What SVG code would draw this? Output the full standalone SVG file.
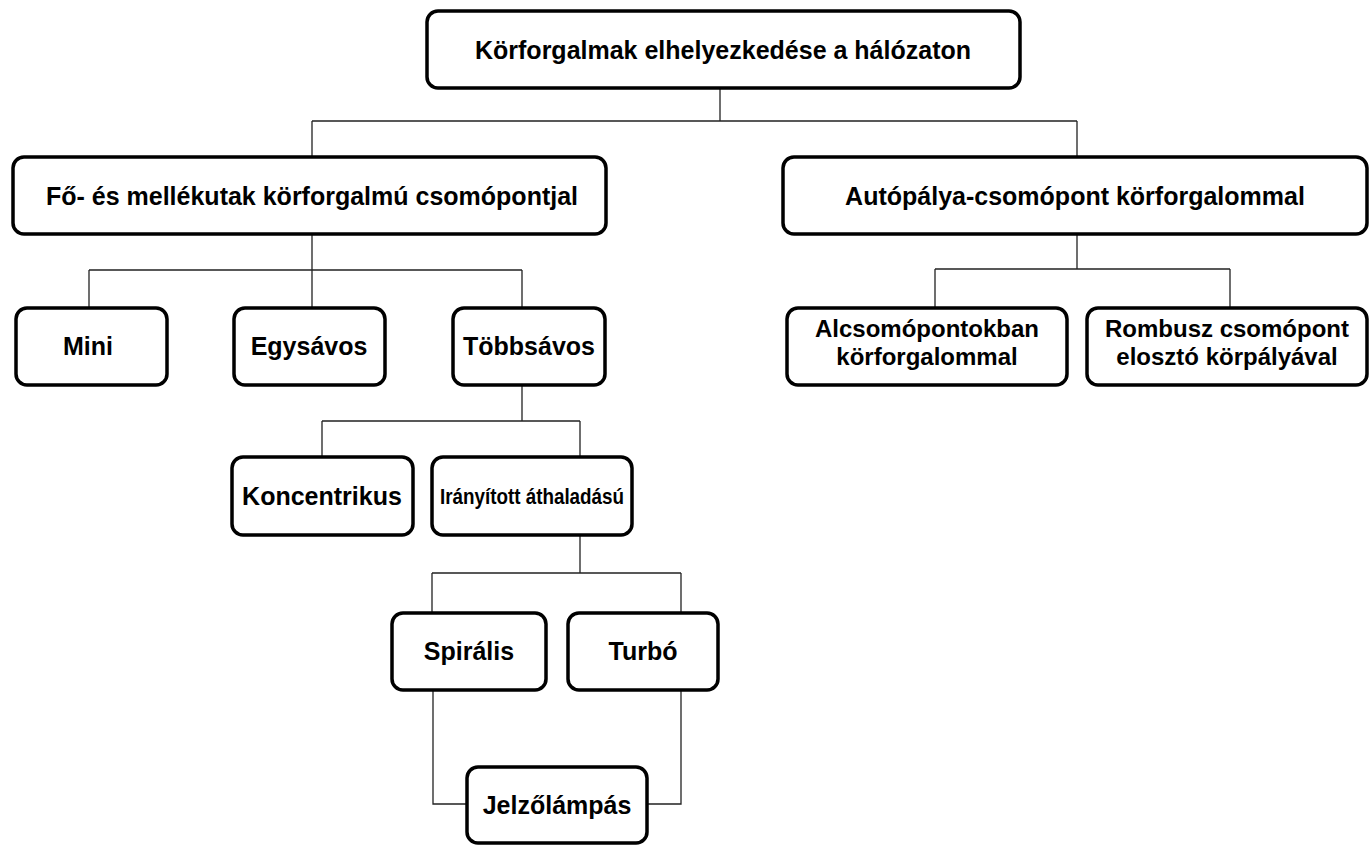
<svg xmlns="http://www.w3.org/2000/svg" width="1369" height="845" viewBox="0 0 1369 845">
<style>
.box{fill:#fff;stroke:#000;stroke-width:3.5}
.lbl{font-family:"Liberation Sans",Arial,sans-serif;font-weight:bold;font-size:25px;fill:#000;text-anchor:middle}
.two{font-size:24px}
.con{fill:none;stroke:#222;stroke-width:1.3}
</style>
<rect width="1369" height="845" fill="#fff"/>
<g id="connectors">
<path class="con" d="M720 88V121M312 121H1077M312 121V157M1077 121V157"/>
<path class="con" d="M312 234V270M89 270H522M89 270V308M312 270V308M522 270V308"/>
<path class="con" d="M1077 234V269M935 269H1230M935 269V308M1230 269V308"/>
<path class="con" d="M522 385V421M322 421H580M322 421V457M580 421V457"/>
<path class="con" d="M580 535V573M432 573H681M432 573V613M681 573V613"/>
<path class="con" d="M433 690V804H467M681 690V804H647"/>
</g>
<g id="n-root"><rect class="box" x="427" y="11" width="593" height="77" rx="11"/><text class="lbl" x="723" y="59">Körforgalmak elhelyezkedése a hálózaton</text></g>
<g id="n-fo"><rect class="box" x="13" y="157" width="593" height="77" rx="11"/><text class="lbl" x="312" y="205">Fő- és mellékutak körforgalmú csomópontjal</text></g>
<g id="n-auto"><rect class="box" x="783" y="157" width="584" height="77" rx="11"/><text class="lbl" x="1075" y="205">Autópálya-csomópont körforgalommal</text></g>
<g id="n-mini"><rect class="box" x="16" y="308" width="151" height="77" rx="11"/><text class="lbl" x="88" y="355">Mini</text></g>
<g id="n-egy"><rect class="box" x="234" y="308" width="151" height="77" rx="11"/><text class="lbl" x="309" y="355">Egysávos</text></g>
<g id="n-tobb"><rect class="box" x="453" y="308" width="152" height="77" rx="11"/><text class="lbl" x="529" y="355">Többsávos</text></g>
<g id="n-alcs"><rect class="box" x="787" y="308" width="280" height="77" rx="11"/><text class="lbl two" x="927" y="337">Alcsomópontokban</text><text class="lbl two" x="927" y="365">körforgalommal</text></g>
<g id="n-romb"><rect class="box" x="1087" y="308" width="280" height="77" rx="11"/><text class="lbl two" x="1227" y="337">Rombusz csomópont</text><text class="lbl two" x="1227" y="365">elosztó körpályával</text></g>
<g id="n-konc"><rect class="box" x="232" y="457" width="181" height="78" rx="11"/><text class="lbl" x="322" y="505">Koncentrikus</text></g>
<g id="n-iran"><rect class="box" x="432" y="457" width="200" height="78" rx="11"/><text class="lbl" x="532" y="504" style="font-size:22px" textLength="184" lengthAdjust="spacingAndGlyphs">Irányított áthaladású</text></g>
<g id="n-spir"><rect class="box" x="392" y="613" width="154" height="77" rx="11"/><text class="lbl" x="469" y="660">Spirális</text></g>
<g id="n-turbo"><rect class="box" x="568" y="613" width="150" height="77" rx="11"/><text class="lbl" x="643" y="660">Turbó</text></g>
<g id="n-jelzo"><rect class="box" x="467" y="767" width="180" height="76" rx="11"/><text class="lbl" x="557" y="814">Jelzőlámpás</text></g>
</svg>
